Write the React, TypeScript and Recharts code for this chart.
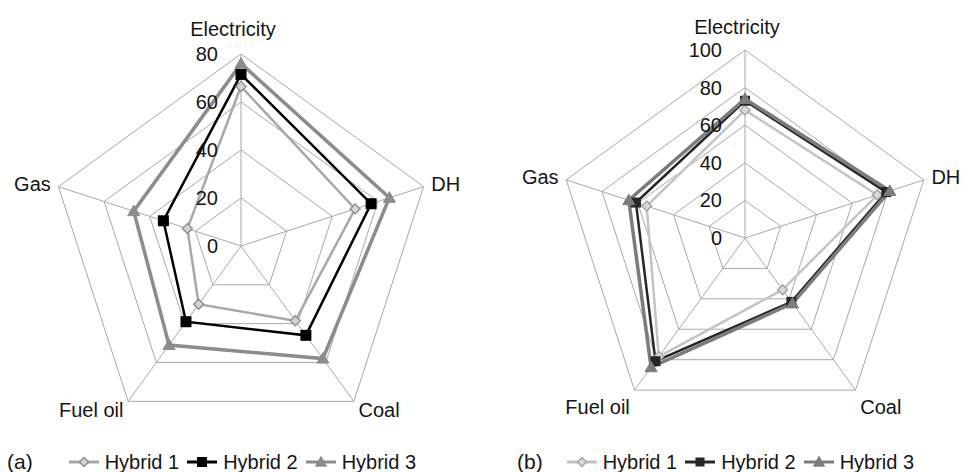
import React from 'react';
import {
  RadarChart,
  Radar,
  PolarGrid,
  PolarAngleAxis,
  PolarRadiusAxis,
  Legend,
} from 'recharts';

// categories, clockwise from the top
const categories = ['Electricity', 'DH', 'Coal', 'Fuel oil', 'Gas'];

// panel (a)
const ticksA = [0, 20, 40, 60, 80];
const hybrid1A = [66.5, 50, 38.5, 30, 23.5];
const hybrid2A = [71.5, 57, 46, 39, 34];
const hybrid3A = [76, 65, 58, 51, 47];

// panel (b)
const ticksB = [0, 20, 40, 60, 80, 100];
const hybrid1B = [68, 74, 34, 78, 55];
const hybrid2B = [73, 79, 42, 81, 61];
const hybrid3B = [74, 81, 43, 85, 65];

const seriesNames = ['Hybrid 1', 'Hybrid 2', 'Hybrid 3'];

const FONT = '"Liberation Sans", Arial, sans-serif';
const TEXT = '#151515';

type MarkerType = 'diamond' | 'square' | 'triangle';

interface SeriesStyle {
  key: string;
  name: string;
  stroke: string;
  width: number;
  marker: MarkerType;
  markerFill: string;
  markerStroke: string;
  size: number;
}

const stylesA: SeriesStyle[] = [
  { key: 'h1', name: seriesNames[0], stroke: '#a8a8a8', width: 2.5, marker: 'diamond', markerFill: '#d4d4d4', markerStroke: '#8a8a8a', size: 5 },
  { key: 'h2', name: seriesNames[1], stroke: '#000000', width: 2.5, marker: 'square', markerFill: '#000000', markerStroke: '#000000', size: 5.5 },
  { key: 'h3', name: seriesNames[2], stroke: '#8c8c8c', width: 3.5, marker: 'triangle', markerFill: '#8c8c8c', markerStroke: '#8c8c8c', size: 6 },
];

const stylesB: SeriesStyle[] = [
  { key: 'h1', name: seriesNames[0], stroke: '#c4c4c4', width: 2.5, marker: 'diamond', markerFill: '#d8d8d8', markerStroke: '#a0a0a0', size: 5 },
  { key: 'h2', name: seriesNames[1], stroke: '#262626', width: 2.5, marker: 'square', markerFill: '#262626', markerStroke: '#262626', size: 5 },
  { key: 'h3', name: seriesNames[2], stroke: '#7c7c7c', width: 3.5, marker: 'triangle', markerFill: '#7c7c7c', markerStroke: '#7c7c7c', size: 6 },
];

const dataA = categories.map((c, i) => ({ category: c, h1: hybrid1A[i], h2: hybrid2A[i], h3: hybrid3A[i] }));
const dataB = categories.map((c, i) => ({ category: c, h1: hybrid1B[i], h2: hybrid2B[i], h3: hybrid3B[i] }));

function Marker({ type, x, y, s, fill, stroke }: { type: MarkerType; x: number; y: number; s: number; fill: string; stroke: string }) {
  if (type === 'diamond') {
    return (
      <polygon
        points={`${x},${y - s} ${x + s},${y} ${x},${y + s} ${x - s},${y}`}
        fill={fill}
        stroke={stroke}
        strokeWidth={1.3}
      />
    );
  }
  if (type === 'square') {
    return <rect x={x - s} y={y - s} width={s * 2} height={s * 2} fill={fill} />;
  }
  return (
    <polygon
      points={`${x},${y - s} ${x + s},${y + s * 0.75} ${x - s},${y + s * 0.75}`}
      fill={fill}
      stroke={stroke}
    />
  );
}

function AngleTick(props: any) {
  const { x, y, payload, cx, cy, topDy, lowDy } = props;
  const dx = x - cx;
  const dy = y - cy;
  const anchor = Math.abs(dx) < 2 ? 'middle' : dx > 0 ? 'start' : 'end';
  let ox = 0;
  let oy = 7;
  if (anchor === 'middle') {
    ox = -8;
    oy = topDy;
  } else if (dy > 20) {
    oy = lowDy;
  }
  return (
    <text x={x + ox} y={y + oy} textAnchor={anchor} fontFamily={FONT} fontSize={20} fill={TEXT}>
      {payload.value}
    </text>
  );
}

function RadiusTick(props: any) {
  const { x, y, payload } = props;
  return (
    <text x={x - 23} y={y} dy="0.35em" textAnchor="end" fontFamily={FONT} fontSize={20} fill={TEXT}>
      {payload.value}
    </text>
  );
}

function LegendBox({ label, styles, lead, gap }: { label: string; styles: SeriesStyle[]; lead: number; gap: number }) {
  return (
    <div style={{ display: 'flex', alignItems: 'center', fontFamily: FONT, fontSize: 20, color: TEXT, whiteSpace: 'nowrap' }}>
      <span style={{ marginLeft: lead, marginRight: gap, fontSize: 21 }}>{label}</span>
      {styles.map((s) => (
        <span key={s.key} style={{ display: 'flex', alignItems: 'center', marginRight: 8 }}>
          <svg width={30} height={16} style={{ marginRight: 6 }}>
            <line x1={0} y1={8} x2={30} y2={8} stroke={s.stroke} strokeWidth={3} />
            <Marker type={s.marker} x={15} y={8} s={s.size - 0.5} fill={s.markerFill} stroke={s.markerStroke} />
          </svg>
          <span>{s.name}</span>
        </span>
      ))}
    </div>
  );
}

interface PanelProps {
  data: any[];
  ticks: number[];
  styles: SeriesStyle[];
  cx: number;
  cy: number;
  radius: number;
  topDy: number;
  lowDy: number;
  label: string;
  lead: number;
  gap: number;
}

function Panel({ data, ticks, styles, cx, cy, radius, topDy, lowDy, label, lead, gap }: PanelProps) {
  return (
    <RadarChart width={482} height={472} data={data} cx={cx} cy={cy} outerRadius={radius} margin={{ top: 0, right: 0, bottom: 0, left: 0 }}>
      <PolarGrid gridType="polygon" stroke="#a9a9a9" strokeWidth={1} />
      <PolarAngleAxis
        dataKey="category"
        axisLine={false}
        tickLine={false}
        tick={(p: any) => <AngleTick {...p} cx={cx} cy={cy} topDy={topDy} lowDy={lowDy} />}
      />
      <PolarRadiusAxis
        angle={90}
        domain={[ticks[0], ticks[ticks.length - 1]]}
        ticks={ticks as any}
        tickCount={ticks.length}
        axisLine={false}
        tickLine={false}
        tick={(p: any) => <RadiusTick {...p} />}
      />
      {styles.map((s) => (
        <Radar
          key={s.key}
          dataKey={s.key}
          name={s.name}
          stroke={s.stroke}
          strokeWidth={s.width}
          fill="none"
          fillOpacity={0}
          isAnimationActive={false}
          dot={(p: any) => (
            <Marker key={p.key} type={s.marker} x={p.cx} y={p.cy} s={s.size} fill={s.markerFill} stroke={s.markerStroke} />
          )}
        />
      ))}
      <Legend
        verticalAlign="top"
        wrapperStyle={{ left: 0, top: 450, width: 482, height: 24 }}
        content={() => <LegendBox label={label} styles={styles} lead={lead} gap={gap} />}
      />
    </RadarChart>
  );
}

export default function App() {
  return (
    <div style={{ position: 'absolute', left: 0, top: 0, width: 964, height: 472, background: '#ffffff', overflow: 'hidden' }}>
      <div style={{ position: 'absolute', left: 0, top: 0 }}>
        <Panel data={dataA} ticks={ticksA} styles={stylesA} cx={241} cy={246} radius={192} topDy={-10} lowDy={9.5} label="(a)" lead={7} gap={36} />
      </div>
      <div style={{ position: 'absolute', left: 482, top: 0 }}>
        <Panel data={dataB} ticks={ticksB} styles={stylesB} cx={263} cy={238} radius={188} topDy={-8} lowDy={17} label="(b)" lead={35} gap={24} />
      </div>
    </div>
  );
}
